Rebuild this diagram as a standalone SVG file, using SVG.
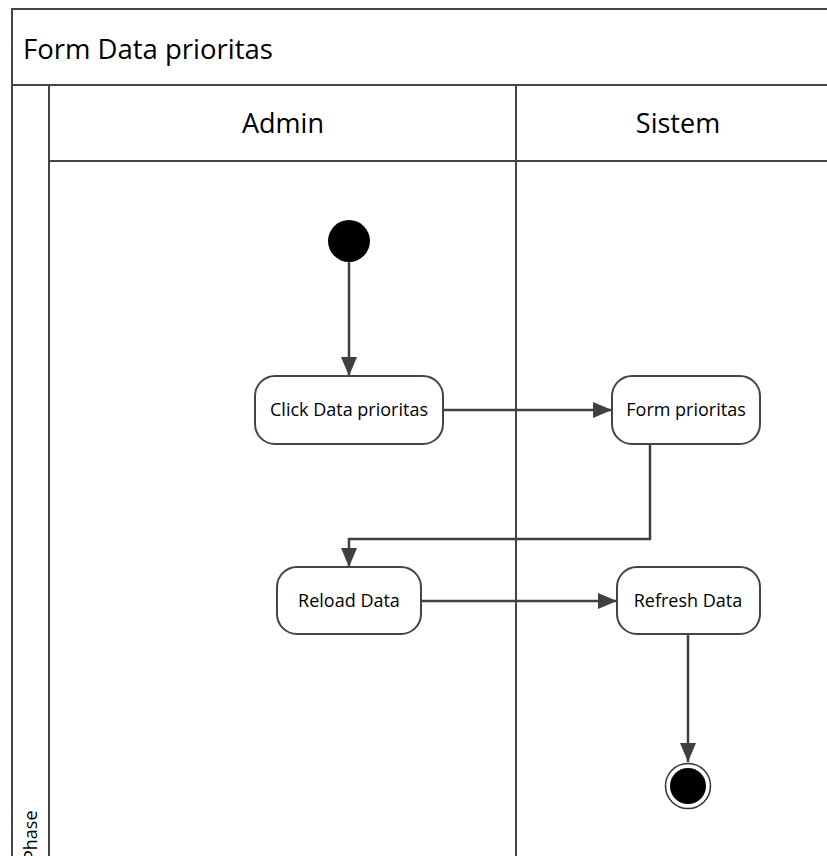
<svg xmlns="http://www.w3.org/2000/svg" width="827" height="856" viewBox="0 0 827 856">
<defs>
<linearGradient id="hdr" x1="0" y1="0" x2="0" y2="1">
<stop offset="0" stop-color="#f9f9f9"/>
<stop offset="1" stop-color="#e9e9e9"/>
</linearGradient>
<linearGradient id="phs" x1="0" y1="0" x2="1" y2="0">
<stop offset="0" stop-color="#e9e9e9"/>
<stop offset="1" stop-color="#f9f9f9"/>
</linearGradient>
<marker id="arr" markerUnits="userSpaceOnUse" markerWidth="20" markerHeight="18" refX="19" refY="8" orient="auto">
<path d="M0,0 L19,8 L0,16 z" fill="#404040"/>
</marker>
</defs>
<style>
.frame{fill:none;stroke:#444;stroke-width:2}
.t{font-family:"Open Sans","DejaVu Sans",sans-serif;fill:#000}
.act{fill:#fff;stroke:#444;stroke-width:2}
.con{fill:none;stroke:#404040;stroke-width:2.5}
</style>
<rect width="827" height="856" fill="#fff"/>
<g id="pool">
<rect x="12" y="9" width="830" height="76" fill="url(#hdr)" class="frame"/>
<text class="t" x="23" y="59" font-size="27.5">Form Data prioritas</text>
<rect x="12" y="85" width="37" height="780" fill="url(#phs)" class="frame"/>
<text class="t" font-size="18" transform="translate(37,861) rotate(-90)">Phase</text>
</g>
<g id="lane-admin">
<rect x="49" y="85" width="467" height="76" fill="url(#hdr)" class="frame"/>
<rect x="49" y="161" width="467" height="710" fill="#fff" class="frame"/>
<text class="t" x="283" y="133" font-size="27" text-anchor="middle">Admin</text>
</g>
<g id="lane-sistem">
<rect x="516" y="85" width="330" height="76" fill="url(#hdr)" class="frame"/>
<rect x="516" y="161" width="330" height="710" fill="#fff" class="frame"/>
<text class="t" x="678" y="133" font-size="27" text-anchor="middle">Sistem</text>
</g>
<g id="connectors">
<line class="con" x1="349" y1="262" x2="349" y2="376" marker-end="url(#arr)"/>
<line class="con" x1="443" y1="410" x2="612" y2="410" marker-end="url(#arr)"/>
<polyline class="con" points="650,444 650,539 349,539 349,567" marker-end="url(#arr)"/>
<line class="con" x1="421" y1="601" x2="617" y2="601" marker-end="url(#arr)"/>
<line class="con" x1="688" y1="634" x2="688" y2="762" marker-end="url(#arr)"/>
</g>
<g id="start">
<circle cx="349" cy="241" r="21" fill="#000"/>
</g>
<g id="click-data-prioritas">
<rect class="act" x="255" y="376" width="188" height="68" rx="20"/>
<text class="t" x="349" y="416" font-size="18" text-anchor="middle">Click Data prioritas</text>
</g>
<g id="form-prioritas">
<rect class="act" x="612" y="376" width="148" height="68" rx="20"/>
<text class="t" x="686" y="416" font-size="18" text-anchor="middle">Form prioritas</text>
</g>
<g id="reload-data">
<rect class="act" x="277" y="567" width="144" height="67" rx="20"/>
<text class="t" x="349" y="607" font-size="18" text-anchor="middle">Reload Data</text>
</g>
<g id="refresh-data">
<rect class="act" x="617" y="567" width="143" height="67" rx="20"/>
<text class="t" x="688" y="607" font-size="18" text-anchor="middle">Refresh Data</text>
</g>
<g id="end">
<circle cx="688" cy="786" r="22.5" fill="#fff" stroke="#333" stroke-width="1.5"/>
<circle cx="688" cy="786" r="18" fill="#000"/>
</g>
</svg>
